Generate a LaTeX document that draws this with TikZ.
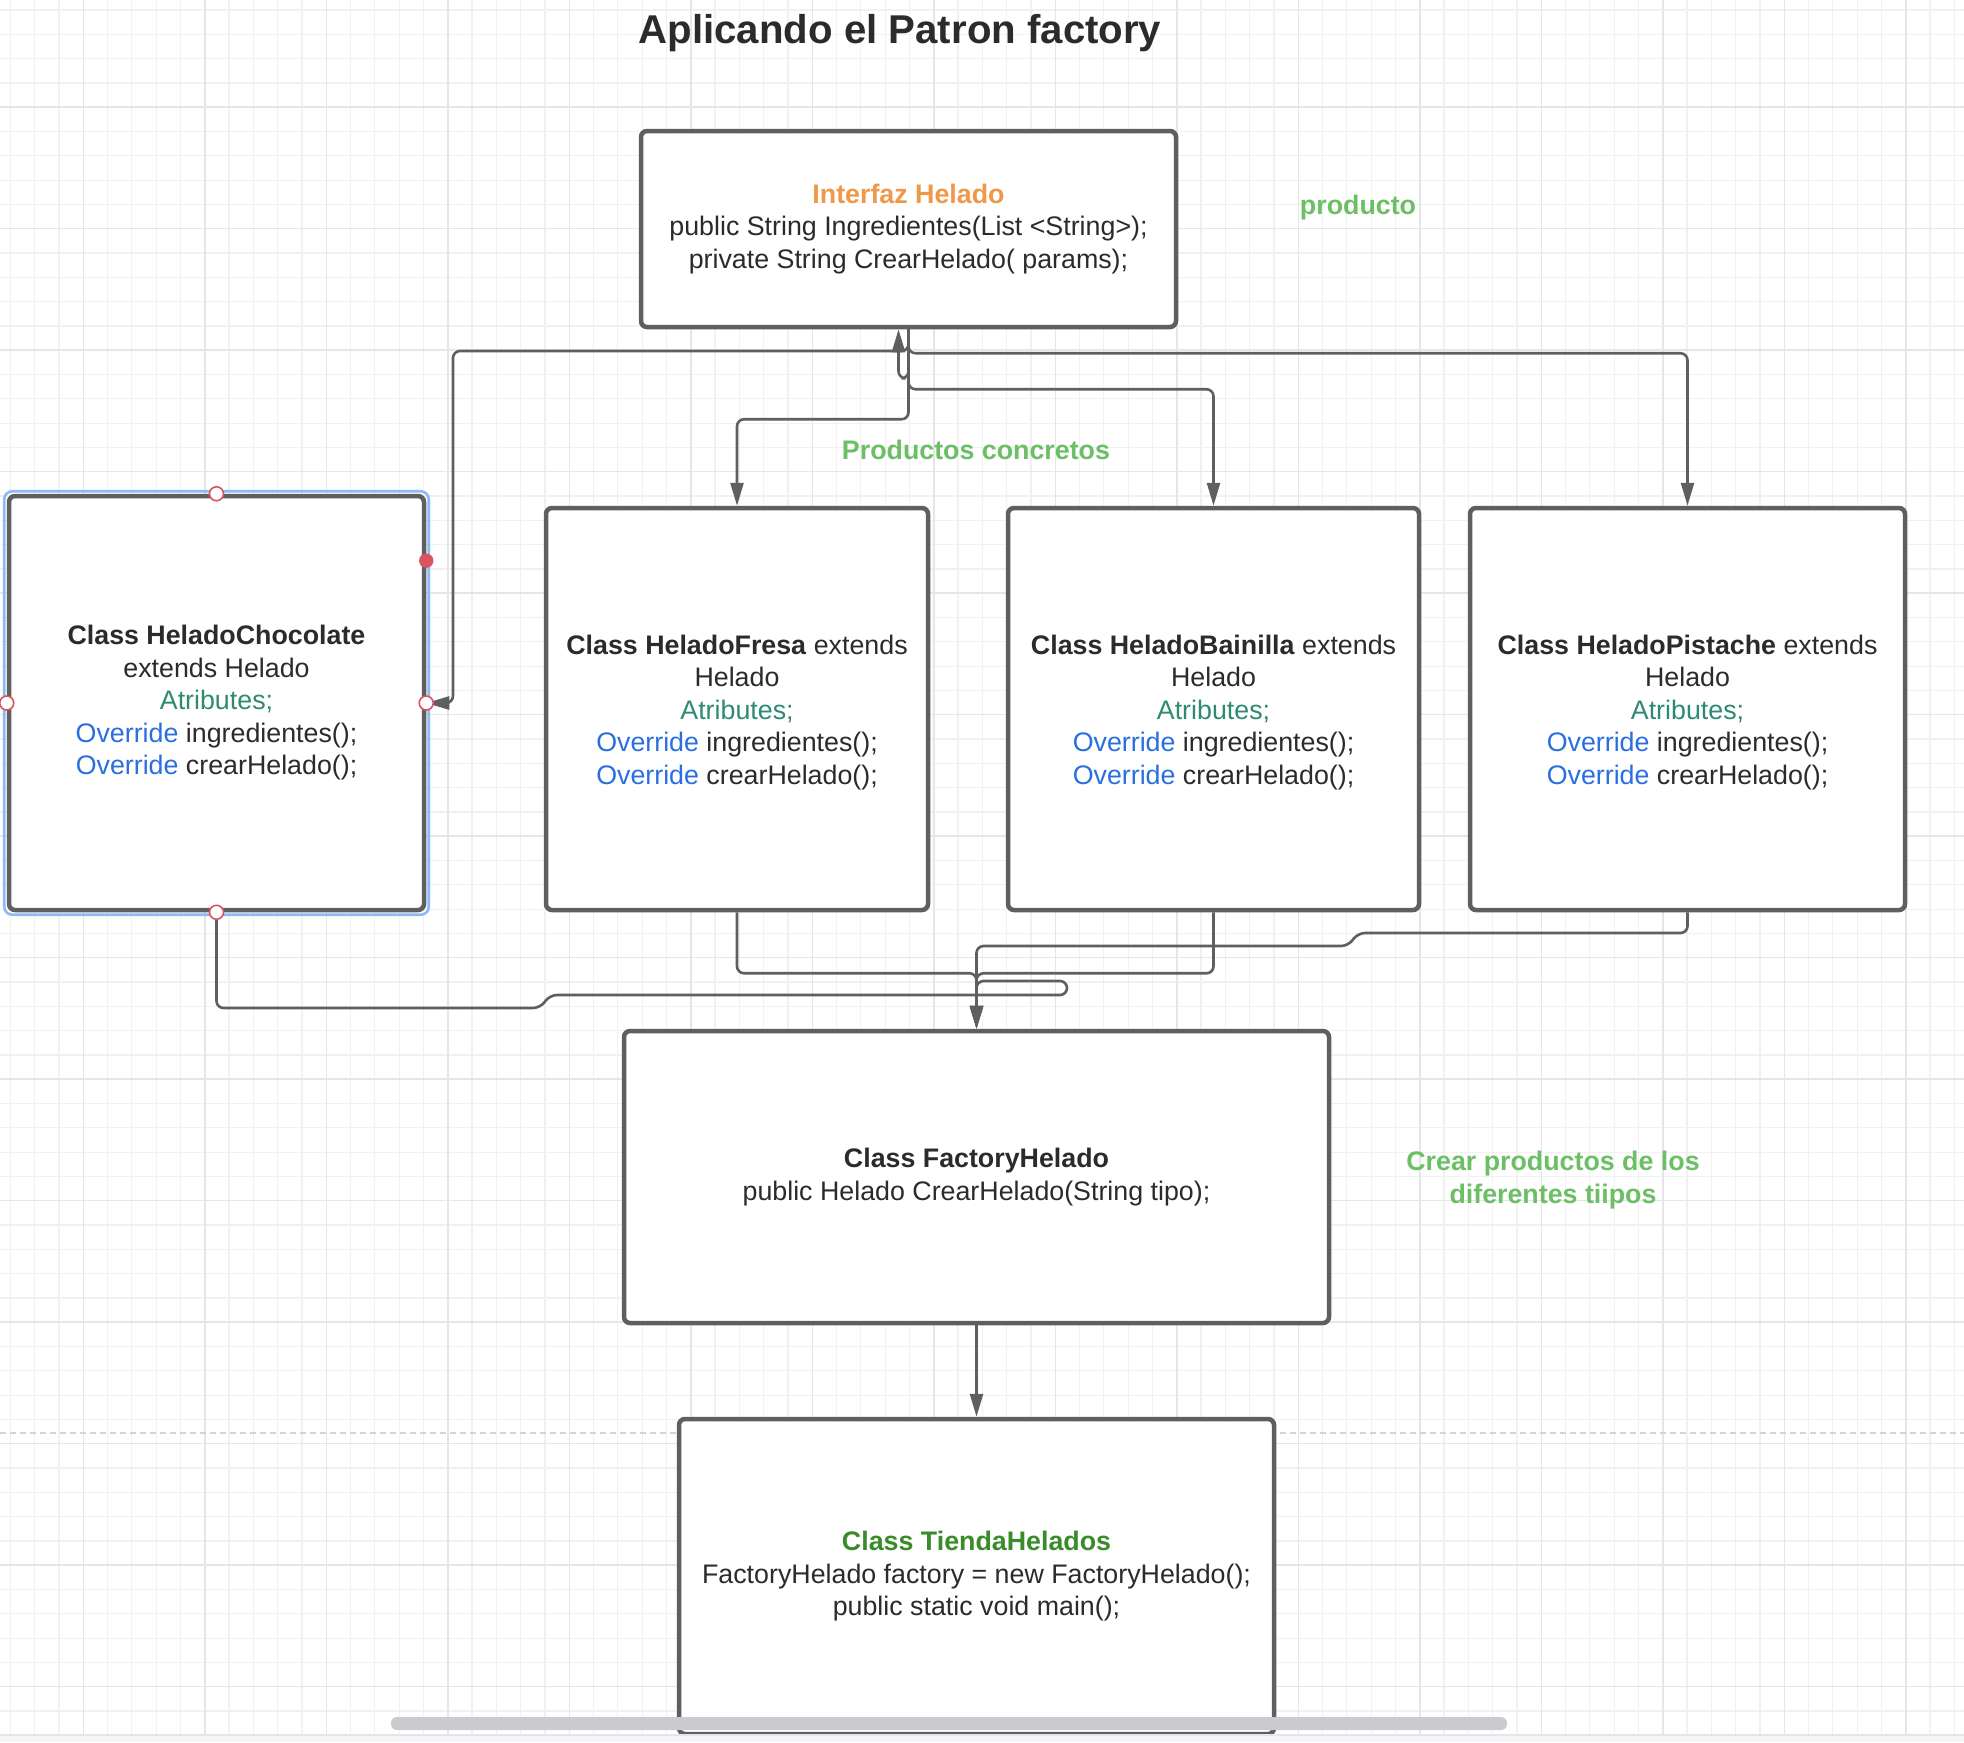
\documentclass[tikz,border=0pt]{standalone}
\usepackage{fontspec}
\setmainfont{Liberation Sans}
\usetikzlibrary{arrows.meta,calc,positioning}

\definecolor{linegray}{HTML}{5F5F5F}
\definecolor{txtdark}{HTML}{2B2B2B}
\definecolor{ifzorange}{HTML}{F0984A}
\definecolor{lblgreen}{HTML}{6CBF65}
\definecolor{tiendagreen}{HTML}{3A8C2A}
\definecolor{attrteal}{HTML}{2E8A70}
\definecolor{ovblue}{HTML}{2A6FE0}
\definecolor{gridminor}{HTML}{F1F1F1}
\definecolor{gridmajor}{HTML}{E6E6E6}
\definecolor{pagebreak}{HTML}{D4D4D4}
\definecolor{selblue}{HTML}{8DB9F7}
\definecolor{handlered}{HTML}{D9545E}
\definecolor{scrollgray}{HTML}{C9CBCF}
\definecolor{stripgray}{HTML}{F3F5F8}

\newcommand{\heladobody}{\textcolor{attrteal}{Atributes;}\\
  \textcolor{ovblue}{Override} ingredientes();\\
  \textcolor{ovblue}{Override} crearHelado();}

\tikzset{
  classbox/.style={draw=linegray, line width=2.25pt, fill=white, rounded corners=3pt,
    align=center, text=txtdark, inner sep=0pt,
    font=\fontsize{13.4pt}{16.25pt}\selectfont},
  conn/.style={draw=linegray, line width=1.3pt, rounded corners=3.5pt},
  tip/.style={-{Triangle[length=11.5pt,width=6.5pt]}},
  greenlbl/.style={text=lblgreen, align=center, font=\fontsize{13.4pt}{16.25pt}\selectfont\bfseries},
  handle/.style={draw=handlered, line width=0.8pt, fill=white},
}

\begin{document}
\begin{tikzpicture}[x=0.5pt,y=-0.5pt]
  \useasboundingbox (0,0) rectangle (1964,1742);
  \fill[white] (0,0) rectangle (1964,1742);

  % grid
  \foreach \i in {0,...,80} {
    \draw[gridminor, line width=0.6pt] ({10.3+24.3*\i},0) -- ({10.3+24.3*\i},1742);
  }
  \foreach \j in {0,...,71} {
    \draw[gridminor, line width=0.6pt] (0,{10+24.3*\j}) -- (1964,{10+24.3*\j});
  }
  \foreach \k in {0,...,15} {
    \draw[gridmajor, line width=0.6pt] ({83.5+121.5*\k},0) -- ({83.5+121.5*\k},1742);
  }
  \foreach \k in {0,...,13} {
    \draw[gridmajor, line width=0.6pt] (0,{107+121.5*\k}) -- (1964,{107+121.5*\k});
  }

  % page break
  \draw[pagebreak, line width=1.3pt, dash pattern=on 3pt off 2pt] (0,1433) -- (1964,1433);

  % title
  \node[text=txtdark, font=\fontsize{20.1pt}{24pt}\selectfont\bfseries] (title) at (900,33)
    {Aplicando el Patron factory};

  % interfaz
  \node[classbox, minimum width=267.5pt, minimum height=98pt] (interfaz) at (908.5,229)
    {\textcolor{ifzorange}{\textbf{Interfaz Helado}}\\
     public String Ingredientes(List <String>);\\
     private String CrearHelado( params);};
  \node[greenlbl] (producto) at (1358,208) {producto};

  % productos concretos
  \node[classbox, minimum width=207.5pt, minimum height=207pt] (chocolate) at (216.5,703)
    {\textbf{Class HeladoChocolate}\\ extends Helado\\ \heladobody};
  \node[classbox, minimum width=191pt, minimum height=201pt] (fresa) at (737,709)
    {\\[-3pt]\textbf{Class HeladoFresa} extends\\ Helado\\ \heladobody};
  \node[classbox, minimum width=205.5pt, minimum height=201pt] (bainilla) at (1213.5,709)
    {\\[-3pt]\textbf{Class HeladoBainilla} extends\\ Helado\\ \heladobody};
  \node[classbox, minimum width=217.5pt, minimum height=201pt] (pistache) at (1687.5,709)
    {\\[-3pt]\textbf{Class HeladoPistache} extends\\ Helado\\ \heladobody};
  \node[greenlbl] (concretos) at (976,450) {Productos concretos};

  % factory
  \node[classbox, minimum width=352.5pt, minimum height=146pt] (factory) at (976.5,1177)
    {\textbf{Class FactoryHelado}\\ public Helado CrearHelado(String tipo);};
  \node[greenlbl] (crear) at (1553,1180) {Crear productos de los\\ diferentes tiipos};

  % tienda
  \node[classbox, minimum width=297.5pt, minimum height=157.5pt] (tienda) at (976.5,1576.5)
    {\textcolor{tiendagreen}{\textbf{Class TiendaHelados}}\\
     FactoryHelado factory = new FactoryHelado();\\
     public static void main();};

  % conectores hacia la interfaz
  \path (453,351) coordinate (chocbend);
  \draw[conn, tip] (interfaz.south) -- ++(0,90) -| (fresa.north);
  \draw[conn, tip] (interfaz.south) -- ++(0,60) -| (bainilla.north);
  \draw[conn, tip] (interfaz.south) -- ++(0,24) -| (pistache.north);
  \draw[conn, tip] (interfaz.south) |- (chocbend) |- (chocolate.east);
  \draw[conn, tip] (interfaz.south) -- ++(0,49) -- ++(-10,0) -- ++(0,-49);

  % conectores hacia la factory
  \path (1358,933) coordinate (pjogA); \path (1348,946) coordinate (pjogB);
  \path (540,1008) coordinate (cjogA); \path (550,995) coordinate (cjogB);
  \path (1067,995) coordinate (cloopA); \path (1067,981) coordinate (cloopB);
  \draw[conn, tip] (fresa.south) -- ++(0,61) -| (factory.north);
  \draw[conn, tip] (bainilla.south) -- ++(0,61) -| (factory.north);
  \draw[conn, tip] (pistache.south) |- (pjogA) -- (pjogB) -| (factory.north);
  \draw[conn, tip] (chocolate.south) |- (cjogA) -- (cjogB) -- (cloopA) -- (cloopB) -| (factory.north);
  \draw[conn, tip] (factory.south) -- (tienda.north);

  % seleccion
  \draw[selblue, line width=1.3pt, rounded corners=4pt]
    ($(chocolate.south west)+(-2.5,2.5)$) rectangle ($(chocolate.north east)+(2.5,-2.5)$);
  \foreach \a in {north,south,east,west} {
    \draw[handle] (chocolate.\a) circle (3.5pt);
  }
  \path ($(chocolate.north east)!0.16!(chocolate.south east)$) coordinate (chocdot);
  \fill[handlered] (chocdot) circle (3.6pt);

  % scrollbar
  \fill[scrollgray, rounded corners=3pt] (391,1717) rectangle (1507,1730);
  \fill[stripgray] (0,1735) rectangle (1964,1742);
  \draw[gridmajor, line width=0.8pt] (0,1735) -- (1964,1735);
\end{tikzpicture}
\end{document}
